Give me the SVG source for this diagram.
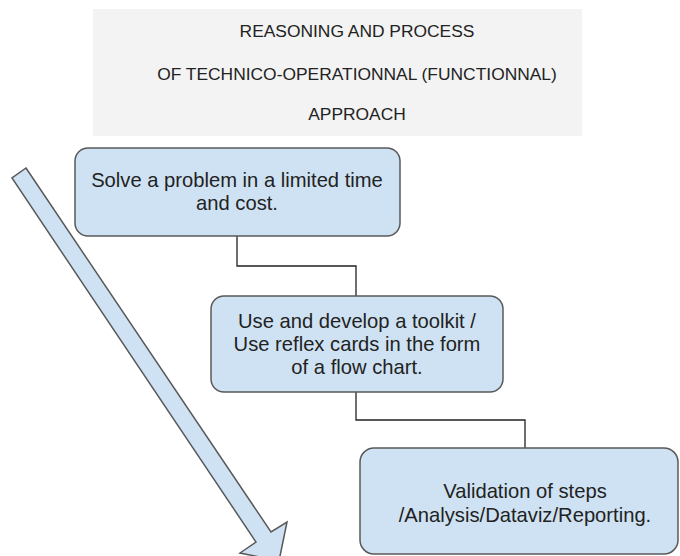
<svg xmlns="http://www.w3.org/2000/svg" width="680" height="556" viewBox="0 0 680 556">
<style>
.t{font-family:"Liberation Sans",Arial,sans-serif;fill:#222;text-anchor:middle}
.title{font-size:17.4px}
.lbl{font-size:20.2px}
.box{fill:#cfe2f3;stroke:#595959;stroke-width:1.5}
.conn{fill:none;stroke:#222;stroke-width:1.3}
</style>
<rect width="680" height="556" fill="#ffffff"/>
<g id="title">
<rect x="93" y="9" width="489" height="127" fill="#f3f3f3"/>
<text class="t title" x="357" y="37">REASONING AND PROCESS</text>
<text class="t title" x="357" y="80">OF TECHNICO-OPERATIONNAL (FUNCTIONNAL)</text>
<text class="t title" x="357" y="120">APPROACH</text>
</g>
<g id="connectors">
<polyline class="conn" points="237,236 237,266 356,266 356,296"/>
<polyline class="conn" points="356,392 356,420 525,420 525,448"/>
</g>
<g id="bigArrow">
<polygon class="box" points="26,168 271,532 287,522 279,561 240,553 256,542 12,178"/>
</g>
<g id="node1">
<rect class="box" x="75" y="148" width="325" height="88" rx="13"/>
<text class="t lbl" x="237" y="187">Solve a problem in a limited time</text>
<text class="t lbl" x="237" y="210">and cost.</text>
</g>
<g id="node2">
<rect class="box" x="211" y="296" width="292" height="96" rx="13"/>
<text class="t lbl" x="357" y="328">Use and develop a toolkit /</text>
<text class="t lbl" x="357" y="351">Use reflex cards in the form</text>
<text class="t lbl" x="357" y="374">of a flow chart.</text>
</g>
<g id="node3">
<rect class="box" x="360" y="448" width="318" height="106" rx="14"/>
<text class="t lbl" x="525" y="498">Validation of steps</text>
<text class="t lbl" x="525" y="522">/Analysis/Dataviz/Reporting.</text>
</g>
</svg>
